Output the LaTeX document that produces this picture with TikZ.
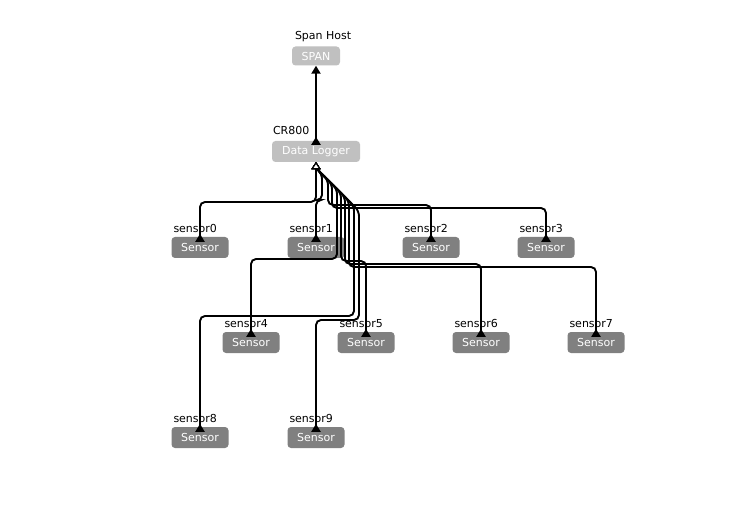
\documentclass[tikz,border=0pt]{standalone}
\usepackage{fontspec}
\setmainfont{DejaVu Sans}
\usetikzlibrary{arrows.meta,calc}
\definecolor{sensorgray}{RGB}{128,128,128}
\definecolor{hostgray}{RGB}{192,192,192}
\begin{document}
\begin{tikzpicture}[x=1pt,y=-1pt,
  boxbase/.style={rounded corners=3.5pt, text=white, font=\fontsize{11}{13}\selectfont, inner sep=0pt},
  hostbox/.style={boxbase, fill=hostgray, minimum height=21pt},
  sensorbox/.style={boxbase, fill=sensorgray, minimum width=57pt, minimum height=21pt},
  lbl/.style={anchor=base west, inner sep=0pt, font=\fontsize{11}{13}\selectfont},
  conn/.style={line width=1.9pt, black},
  uplink/.style={conn, {Triangle[reversed,length=8pt,width=9pt]}-{Triangle[length=8pt,width=9pt]}},
  fan/.style={conn, rounded corners=5pt, {Triangle[open,fill=white,length=7pt,width=9pt,line width=1pt]}-{Triangle[reversed,length=8pt,width=9pt]}}
]
\fill[white] (0,0) rectangle (756,524);
\useasboundingbox (0,0) rectangle (756,524);

% nodes
\node[hostbox, minimum width=48pt, minimum height=19pt] (span) at (316,56) {SPAN};
\node[hostbox, minimum width=88pt] (dl) at (316,151.5) {Data Logger};
\node[sensorbox] (s0) at (200,247.5) {Sensor};
\node[sensorbox] (s1) at (316,247.5) {Sensor};
\node[sensorbox] (s2) at (431,247.5) {Sensor};
\node[sensorbox] (s3) at (546,247.5) {Sensor};
\node[sensorbox] (s4) at (251,342.5) {Sensor};
\node[sensorbox] (s5) at (366,342.5) {Sensor};
\node[sensorbox] (s6) at (481,342.5) {Sensor};
\node[sensorbox] (s7) at (596,342.5) {Sensor};
\node[sensorbox] (s8) at (200,437.5) {Sensor};
\node[sensorbox] (s9) at (316,437.5) {Sensor};

% labels
\node[lbl] (spanlbl) at ($(span.north west)+(3,-7)$) {Span Host};
\node[lbl] (dllbl) at ($(dl.north west)+(1,-6)$) {CR800};
\foreach \i in {0,...,9}{
  \node[lbl] (l\i) at ($(s\i.north west)+(2,-4)$) {sensor\i};
}

% logger -> host
\draw[uplink] ($(dl.north)+(0,4)$) -- (span.south);

% sensor connectors
\draw[fan] (dl.south) -- (316,202) -- (s0.north |- 0,202) -- ($(s0.north)+(0,5)$);
\draw[fan] (dl.south) -- ++(0,6) -- (322,174) -- (322,200) -- (s1.north |- 0,200) -- ($(s1.north)+(0,5)$);
\draw[fan] (dl.south) -- ++(0,6) -- (328,180) -- (328,205) -- (s2.north |- 0,205) -- ($(s2.north)+(0,5)$);
\draw[fan] (dl.south) -- ++(0,6) -- (332,184) -- (332,208) -- (s3.north |- 0,208) -- ($(s3.north)+(0,5)$);
\draw[fan] (dl.south) -- ++(0,6) -- (337,189) -- (337,259) -- (s4.north |- 0,259) -- ($(s4.north)+(0,5)$);
\draw[fan] (dl.south) -- ++(0,6) -- (341,193) -- (341,261) -- (s5.north |- 0,261) -- ($(s5.north)+(0,5)$);
\draw[fan] (dl.south) -- ++(0,6) -- (345,197) -- (345,264) -- (s6.north |- 0,264) -- ($(s6.north)+(0,5)$);
\draw[fan] (dl.south) -- ++(0,6) -- (349,201) -- (349,267) -- (s7.north |- 0,267) -- ($(s7.north)+(0,5)$);
\draw[fan] (dl.south) -- ++(0,6) -- (354,206) -- (354,316) -- (s8.north |- 0,316) -- ($(s8.north)+(0,5)$);
\draw[fan] (dl.south) -- ++(0,6) -- (359,211) -- (359,320) -- (s9.north |- 0,320) -- ($(s9.north)+(0,5)$);
\end{tikzpicture}
\end{document}
